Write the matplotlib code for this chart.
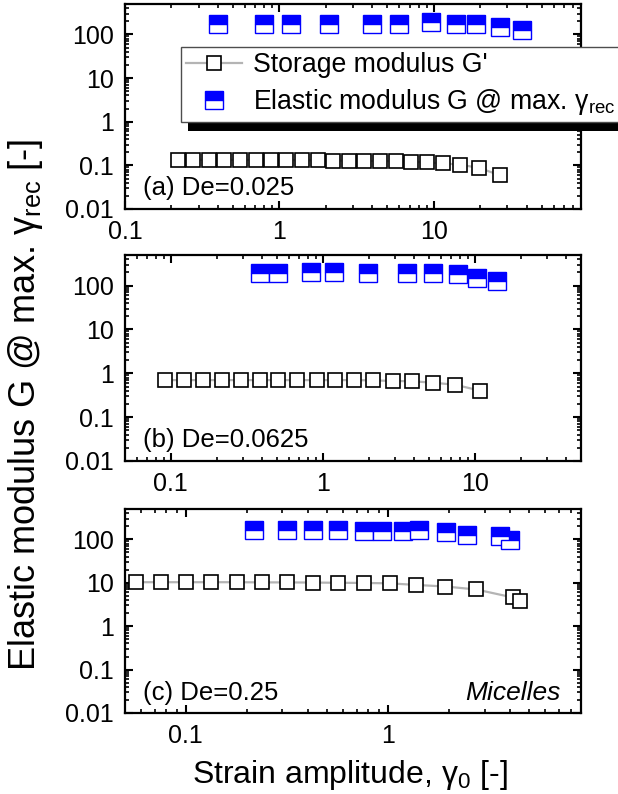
import matplotlib
matplotlib.use("Agg")
import matplotlib.pyplot as plt
import matplotlib.ticker as ticker
from matplotlib.lines import Line2D
from matplotlib.patches import Rectangle

plt.rcParams['font.family'] = ['Liberation Sans', 'DejaVu Sans']

# (a) De=0.025
a_gp_x = [0.219, 0.277, 0.350, 0.440, 0.556, 0.702, 0.883, 1.11, 1.41, 1.77, 2.23,
          2.82, 3.55, 4.48, 5.66, 7.12, 9.03, 11.5, 14.9, 19.7, 26.7]
a_gp_y = [0.135, 0.135, 0.134, 0.134, 0.133, 0.133, 0.132, 0.132, 0.131, 0.130, 0.129,
          0.128, 0.127, 0.126, 0.124, 0.121, 0.117, 0.111, 0.104, 0.087, 0.060]
a_g_x = [0.402, 0.798, 1.19, 2.10, 3.96, 5.95, 9.55, 13.9, 18.8, 26.8, 37.1]
a_g_y = [178, 178, 176, 178, 176, 178, 192, 178, 173, 148, 128]

# (b) De=0.0625
b_gp_x = [0.0917, 0.122, 0.162, 0.216, 0.288, 0.386, 0.51, 0.68, 0.91, 1.21, 1.61,
          2.15, 2.88, 3.88, 5.33, 7.41, 10.9]
b_gp_y = [0.70, 0.70, 0.70, 0.70, 0.70, 0.70, 0.70, 0.70, 0.70, 0.70, 0.70,
          0.69, 0.67, 0.66, 0.61, 0.55, 0.40]
b_g_x = [0.386, 0.51, 0.833, 1.19, 1.99, 3.56, 5.33, 7.72, 10.4, 14.1]
b_g_y = [197, 197, 208, 202, 191, 197, 197, 184, 147, 129]

# (c) De=0.25
c_gp_x = [0.0567, 0.0754, 0.1003, 0.133, 0.179, 0.238, 0.316, 0.423, 0.565, 0.757,
          1.02, 1.38, 1.92, 2.73, 4.13, 4.50]
c_gp_y = [10.3, 10.3, 10.3, 10.3, 10.3, 10.2, 10.2, 10.1, 10.0, 9.9,
          9.7, 8.9, 8.2, 7.0, 4.6, 3.9]
c_g_x = [0.218, 0.316, 0.423, 0.565, 0.757, 0.933, 1.19, 1.42, 1.93, 2.46, 3.59, 4.02]
c_g_y = [165, 165, 166, 166, 159, 159, 159, 160, 151, 129, 118, 96]

panel_labels = ["(a) De=0.025", "(b) De=0.0625", "(c) De=0.25"]
xlims = [(0.1, 90), (0.05, 50), (0.05, 9)]
xticks = [[0.1, 1, 10], [0.1, 1, 10], [0.1, 1]]
yticks = [0.01, 0.1, 1, 10, 100]

gp_style = dict(color='#b4b4b4', lw=1.6, marker='s', ms=10.5, mfc='white',
                mec='black', mew=1.2)
g_style = dict(ls='none', marker='s', ms=12.5, fillstyle='top', mfc='#0000ff',
               mfcalt='white', mec='#0000ff', mew=1.0)

W, H = 618, 794
fig = plt.figure(figsize=(W / 100, H / 100), dpi=100)

# axes boxes in pixels: (top, bottom)
boxes = [(4, 209), (255, 461), (509, 713)]
left, right = 125, 581
data = [(a_gp_x, a_gp_y, a_g_x, a_g_y),
        (b_gp_x, b_gp_y, b_g_x, b_g_y),
        (c_gp_x, c_gp_y, c_g_x, c_g_y)]

axes = []
for i, (top, bot) in enumerate(boxes):
    ax = fig.add_axes([left / W, 1 - bot / H, (right - left) / W, (bot - top) / H])
    gpx, gpy, gx, gy = data[i]
    ax.plot(gpx, gpy, **gp_style)
    ax.plot(gx, gy, **g_style)

    ax.set_xscale('log')
    ax.set_yscale('log')
    ax.set_xlim(*xlims[i])
    ax.set_ylim(0.01, 500)

    ax.xaxis.set_major_locator(ticker.FixedLocator(xticks[i]))
    ax.xaxis.set_major_formatter(ticker.FuncFormatter(lambda v, p: f'{v:g}'))
    ax.xaxis.set_minor_locator(ticker.LogLocator(base=10, subs=range(2, 10), numticks=20))
    ax.xaxis.set_minor_formatter(ticker.NullFormatter())
    ax.yaxis.set_major_locator(ticker.FixedLocator(yticks))
    ax.yaxis.set_major_formatter(ticker.FuncFormatter(lambda v, p: f'{v:g}'))
    ax.yaxis.set_minor_locator(ticker.LogLocator(base=10, subs=range(2, 10), numticks=20))
    ax.yaxis.set_minor_formatter(ticker.NullFormatter())

    ax.tick_params(which='both', direction='in', top=True, right=True, labelsize=18)
    ax.tick_params(which='major', length=6, width=1.5, pad=8)
    ax.tick_params(which='minor', length=3, width=1.2)
    for s in ax.spines.values():
        s.set_linewidth(1.6)

    ax.text(0.04, 0.1, panel_labels[i], transform=ax.transAxes, fontsize=18.5,
            ha='left', va='center')
    axes.append(ax)

axes[2].text(0.955, 0.1, 'Micelles', transform=axes[2].transAxes, fontsize=19,
             style='italic', ha='right', va='center')

fig.text(350 / W, 1 - 775 / H, r'Strain amplitude, γ$_{\mathregular{0}}$ [-]',
         fontsize=23, ha='center', va='center')
fig.text(26 / W, 1 - 405 / H, r'Elastic modulus G @ max. γ$_{\mathregular{rec}}$ [-]',
         fontsize=26, rotation=90, ha='center', va='center')

handles = [Line2D([], [], **gp_style), Line2D([], [], **g_style)]
labels = ["Storage modulus G'", r"Elastic modulus G @ max. γ$_{\mathregular{rec}}$"]
leg = fig.legend(handles, labels, loc='upper left', mode='expand',
                 bbox_to_anchor=(181 / W, 1 - 47 / H, 450 / W, 0),
                 bbox_transform=fig.transFigure, borderaxespad=0, fontsize=19.2,
                 frameon=True, fancybox=False, framealpha=1, edgecolor='0.3',
                 handlelength=2.1, handletextpad=0.4, labelspacing=0.32, borderpad=0.2)
leg.get_frame().set_linewidth(1.0)
leg.set_zorder(6)

fig.canvas.draw()
bb = leg.get_window_extent()
shadow = Rectangle((bb.x0 + 7, bb.y0 - 9), bb.width, bb.height, transform=None,
                   facecolor='black', edgecolor='none', zorder=5)
fig.patches.append(shadow)

fig.savefig('out.png', dpi=100)
